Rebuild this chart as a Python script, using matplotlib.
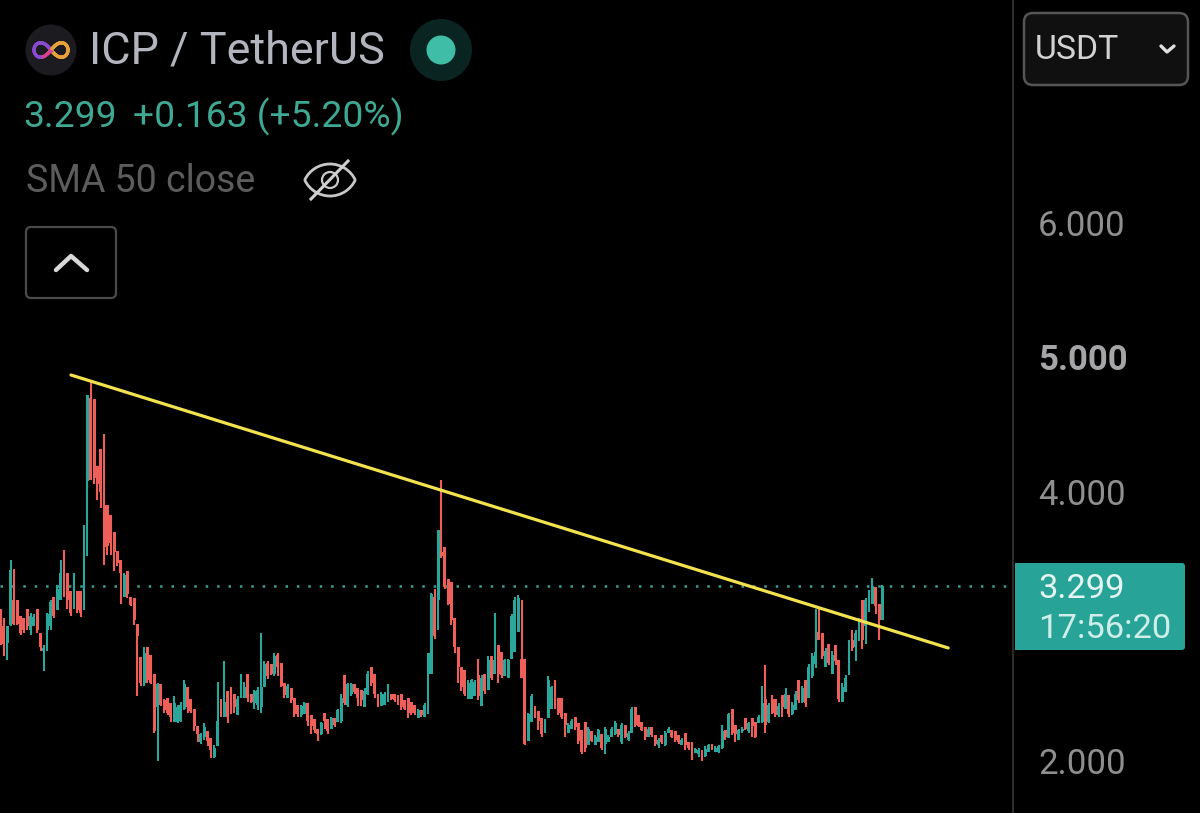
import numpy as np
import matplotlib
matplotlib.use("Agg")
import matplotlib.pyplot as plt
from matplotlib.patches import FancyBboxPatch, Circle, Arc, Rectangle

plt.rcParams['font.family'] = ['Roboto', 'DejaVu Sans']

opens = [
 3.06,3.00,2.88,3.01,3.20,3.20,3.08,3.06,3.13,2.97, 3.00,3.13,2.95,2.82,2.97,3.00,3.22,3.12,3.20,3.45,
 3.40,3.26,3.13,3.26,3.26,3.12,4.08,4.70,4.69,4.19, 4.32,3.90,3.90,3.83,3.70,3.56,3.49,3.22,3.41,3.22,
 3.21,3.02,2.77,2.58,2.85,2.79,2.65,2.40,2.57,2.45,2.47,2.43, 2.29,2.29,2.30,2.39,2.55,2.46,2.39,2.26,2.14,2.18,2.22,
 2.17,2.03,2.11,2.46,2.33,2.52,2.55,2.50,2.34,2.47,2.47, 2.65,2.50,2.43,2.42,2.40,2.55,2.73,2.72,2.65,2.79,
 2.73,2.58,2.47,2.54,2.47,2.42,2.34,
 2.35,2.43,2.34,2.31,2.24,2.20,2.36,2.31,2.24, 2.32,2.29,2.30,2.64,2.42,2.50,2.57,2.54,2.53,
 2.40,2.50,2.70,2.65,2.50,2.41,2.42,2.45,2.50,2.50, 2.49,2.50,2.45,2.47,2.44,2.42,2.32,2.38,2.33,
 2.65,2.65,3.22,3.20,3.55,3.59,3.35,3.33,3.06, 2.85,2.70,2.68,2.46,2.46,2.48,2.64,2.41,2.65,
 2.53,2.78,2.65,2.86,2.81,2.63,2.62,2.76,2.81,2.96, 2.76,2.76,2.15,2.29,2.41,2.37,2.32,2.21,2.32,
 2.39,2.60,2.47,2.47,2.36,2.21,2.24,2.33,2.28, 2.23,2.29,2.12,2.22,2.12,2.14,
 2.20,2.13,2.14,2.18,2.20,2.24,2.14,2.27,2.16,2.21, 2.40,2.34,2.29,2.25,2.18,2.25,2.19,2.12,2.19,2.12,
 2.21,2.23,2.22,2.19,2.12,2.21,2.14,2.14,2.06,2.05, 2.08,2.04,2.07,2.13,2.07,2.07,2.10,2.23,2.17,2.39,
 2.27,2.16,2.22,2.32,2.22,2.32,2.29,2.28,2.29,2.46, 2.29,2.46,2.46,2.34,2.49,2.39,2.49,2.35,2.38,2.60,
 2.44,2.60,2.47,2.63,2.72,2.96,2.95,2.70,2.87,2.65, 2.86,2.75,2.44,2.51,2.64,2.90,2.85,2.89,3.20,3.00,
 3.12,3.17,3.29,3.17,3.05]
highs = [
 3.13,3.06,3.00,3.49,3.43,3.20,3.08,3.06,3.13,3.10, 3.09,3.13,2.95,2.86,3.10,3.20,3.22,3.31,3.49,3.57,
 3.40,3.26,3.40,3.26,3.26,3.75,4.72,4.82,4.69,4.19, 4.32,4.43,3.90,3.83,3.70,3.56,3.49,3.40,3.41,3.22,
 3.21,3.02,2.77,2.85,2.85,2.79,2.65,2.58,2.57,2.46,2.47,2.43, 2.48,2.42,2.44,2.60,2.55,2.46,2.39,2.26,2.21,2.28,2.22,
 2.17,2.12,2.59,2.46,2.74,2.52,2.55,2.50,2.48,2.65,2.59, 2.65,2.50,2.53,2.55,2.95,2.74,2.74,2.72,2.80,2.80,
 2.73,2.58,2.57,2.54,2.47,2.42,2.42,
 2.44,2.43,2.34,2.31,2.24,2.29,2.36,2.31,2.33, 2.32,2.39,2.50,2.64,2.58,2.58,2.57,2.54,2.53,
 2.54,2.67,2.70,2.65,2.50,2.51,2.51,2.57,2.50,2.50, 2.49,2.50,2.45,2.47,2.44,2.42,2.39,2.38,2.43,
 2.80,3.25,3.28,3.72,4.09,3.59,3.35,3.33,3.06, 2.85,2.70,2.68,2.60,2.61,2.60,2.76,2.64,2.65,
 2.78,2.78,3.10,2.86,2.81,2.76,2.76,3.09,3.22,3.23, 3.20,2.76,2.36,2.50,2.41,2.37,2.32,2.31,2.63,
 2.56,2.60,2.47,2.47,2.36,2.28,2.31,2.33,2.28, 2.23,2.29,2.25,2.22,2.19,2.24,
 2.20,2.25,2.19,2.25,2.30,2.24,2.28,2.27,2.22,2.40, 2.40,2.34,2.29,2.25,2.25,2.25,2.19,2.17,2.19,2.22,
 2.25,2.23,2.22,2.19,2.17,2.21,2.14,2.14,2.10,2.10, 2.08,2.11,2.13,2.13,2.11,2.12,2.27,2.23,2.36,2.39,
 2.27,2.24,2.25,2.32,2.29,2.32,2.29,2.34,2.56,2.71, 2.43,2.49,2.46,2.43,2.49,2.54,2.49,2.44,2.52,2.60,
 2.56,2.60,2.72,2.80,3.13,3.13,2.95,2.84,2.87,2.82, 2.86,2.75,2.58,2.64,2.90,2.97,2.97,3.06,3.20,3.21,
 3.27,3.36,3.29,3.17,3.31]
lows = [
 2.86,2.78,2.75,3.00,3.01,3.01,2.94,2.95,2.97,2.94, 3.00,2.95,2.82,2.67,2.82,2.97,3.06,3.12,3.20,3.22,
 3.13,3.08,3.13,3.10,3.07,3.12,3.52,4.09,4.06,3.94, 3.88,3.46,3.53,3.53,3.41,3.45,3.17,3.22,3.21,3.15,
 3.01,2.48,2.56,2.56,2.58,2.57,2.21,2.00,2.41,2.36,2.34,2.29, 2.29,2.28,2.29,2.38,2.36,2.36,2.22,2.14,2.13,2.16,2.11,
 2.02,2.02,2.11,2.33,2.33,2.28,2.35,2.36,2.34,2.47,2.47, 2.44,2.43,2.39,2.38,2.36,2.55,2.61,2.64,2.63,2.63,
 2.55,2.47,2.47,2.43,2.33,2.33,2.33,
 2.35,2.26,2.20,2.21,2.15,2.19,2.24,2.20,2.24, 2.25,2.29,2.28,2.42,2.40,2.48,2.50,2.41,2.41,
 2.40,2.49,2.56,2.47,2.40,2.41,2.42,2.44,2.45,2.44, 2.42,2.38,2.38,2.32,2.34,2.34,2.32,2.33,2.33,
 2.35,2.65,2.91,2.97,3.51,3.28,3.16,3.01,2.80, 2.58,2.52,2.48,2.46,2.46,2.48,2.45,2.41,2.50,
 2.53,2.60,2.65,2.58,2.62,2.63,2.62,2.76,2.81,2.96, 2.62,2.12,2.15,2.29,2.32,2.23,2.18,2.21,2.32,
 2.39,2.39,2.34,2.31,2.18,2.21,2.24,2.23,2.13, 2.05,2.07,2.12,2.14,2.12,2.14,
 2.08,2.05,2.14,2.18,2.19,2.18,2.13,2.17,2.15,2.21, 2.25,2.25,2.22,2.16,2.18,2.18,2.11,2.10,2.13,2.11,
 2.21,2.17,2.14,2.13,2.12,2.08,2.08,2.01,2.06,2.03, 2.00,2.03,2.07,2.08,2.07,2.06,2.09,2.16,2.17,2.19,
 2.14,2.16,2.21,2.23,2.21,2.18,2.17,2.28,2.28,2.21, 2.28,2.35,2.33,2.33,2.33,2.39,2.33,2.34,2.38,2.43,
 2.43,2.40,2.47,2.62,2.69,2.90,2.76,2.70,2.71,2.65, 2.71,2.44,2.44,2.51,2.64,2.82,2.74,2.89,2.83,2.87,
 3.11,3.17,3.09,2.90,3.05]
closes = [
 2.87,2.87,3.00,3.42,3.02,3.02,2.95,2.97,3.00,3.08, 3.07,2.97,2.85,2.84,3.09,3.18,3.08,3.28,3.40,3.24,
 3.20,3.10,3.30,3.12,3.10,3.30,4.72,4.09,4.10,4.06, 4.00,3.59,3.60,3.62,3.55,3.47,3.40,3.38,3.24,3.16,
 3.05,2.93,2.58,2.80,2.60,2.58,2.22,2.57,2.42,2.38,2.36,2.33, 2.43,2.40,2.42,2.57,2.40,2.37,2.26,2.20,2.20,2.25,2.15,
 2.08,2.10,2.30,2.34,2.44,2.33,2.38,2.40,2.46,2.58,2.55, 2.47,2.44,2.52,2.53,2.55,2.72,2.63,2.65,2.78,2.70,
 2.56,2.49,2.56,2.45,2.35,2.35,2.41,
 2.43,2.30,2.26,2.23,2.20,2.28,2.30,2.22,2.32, 2.27,2.38,2.47,2.43,2.57,2.57,2.51,2.47,2.45,
 2.52,2.65,2.58,2.50,2.45,2.50,2.50,2.51,2.46,2.45, 2.44,2.40,2.39,2.36,2.36,2.36,2.38,2.34,2.42,
 2.80,3.24,2.93,3.72,3.52,3.29,3.17,3.05,2.85, 2.70,2.55,2.50,2.58,2.60,2.59,2.48,2.62,2.52,
 2.75,2.62,2.75,2.65,2.64,2.75,2.75,3.08,3.20,3.21, 2.62,2.13,2.35,2.48,2.33,2.30,2.20,2.30,2.60,
 2.55,2.42,2.36,2.33,2.27,2.27,2.30,2.25,2.15, 2.07,2.10,2.24,2.15,2.18,2.23,
 2.10,2.24,2.18,2.24,2.28,2.19,2.27,2.18,2.21,2.39, 2.27,2.26,2.23,2.18,2.24,2.19,2.13,2.16,2.14,2.21,
 2.24,2.18,2.16,2.14,2.16,2.12,2.10,2.04,2.09,2.08, 2.03,2.09,2.12,2.09,2.10,2.11,2.22,2.18,2.35,2.21,
 2.20,2.23,2.24,2.24,2.28,2.26,2.18,2.33,2.43,2.27, 2.42,2.36,2.34,2.41,2.40,2.50,2.35,2.42,2.50,2.45,
 2.54,2.43,2.70,2.78,2.81,2.90,2.78,2.82,2.73,2.79, 2.74,2.46,2.55,2.62,2.88,2.84,2.95,3.05,2.90,3.20,
 3.25,3.30,3.15,3.05,3.30]

price_ticks = [2, 4, 5, 6]
price_labels = ['2.000', '4.000', '5.000', '6.000']
last_price = 3.299
trend_bars = [21.1, 283.7]
trend_prices = [4.868, 2.84]

UP, DOWN = '#2ba69a', '#ee5f5a'
W, H = 1200, 813
fig = plt.figure(figsize=(W/100, H/100), dpi=100, facecolor='black')

ax = fig.add_axes([0, 0, 1013/W, 1], facecolor='black')
ax.set_xlim(-0.15, 303.1)
ax.set_ylim(1.614, 7.654)
idx = np.arange(len(opens))
o, h, l, c = map(np.array, (opens, highs, lows, closes))
cols = [UP if a >= b else DOWN for a, b in zip(c, o)]
ax.vlines(idx, l, h, colors=cols, linewidth=1.5, zorder=2)
ax.bar(idx, np.abs(c - o), bottom=np.minimum(c, o), width=0.88, color=cols, linewidth=0, zorder=3)
ax.axhline(last_price, color='#3f9f93', linewidth=1.8, linestyle=(0, (1, 3.56)), zorder=1)
ax.plot(trend_bars, trend_prices, color='#f2e34e', linewidth=2.3, zorder=4, solid_capstyle='round')

ax.set_xticks([])
ax.yaxis.tick_right()
ax.set_yticks(price_ticks)
ax.set_yticklabels(price_labels, fontsize=25, color='#8f8f8f')
ax.tick_params(axis='y', length=0, pad=18)
for t in ax.get_yticklabels():
    if t.get_text() == '5.000':
        t.set_fontweight('bold')
        t.set_color('#a5a5a8')
for s in ('top', 'left', 'bottom'):
    ax.spines[s].set_visible(False)
ax.spines['right'].set_color('#2c2c2c')
ax.spines['right'].set_linewidth(1.5)

ov = fig.add_axes([0, 0, 1, 1], facecolor='none')
ov.set_xlim(0, W); ov.set_ylim(H, 0); ov.axis('off')

# logo
ov.add_patch(Circle((51, 50), 25.5, color='#1b1b20', lw=0))
tt = np.linspace(0, 2*np.pi, 200)
lx = 51 + 17*np.cos(tt)/(1+np.sin(tt)**2)
ly = 50 + 17*np.sin(tt)*np.cos(tt)/(1+np.sin(tt)**2)*1.2
for i in range(len(tt)-1):
    col = '#e9a23b' if lx[i] > 52 else ('#8a4bd0' if i % 200 < 125 else '#d9408f')
    ov.plot(lx[i:i+2], ly[i:i+2], color=col, lw=2.4, solid_capstyle='round')

ov.text(89, 51, 'ICP / TetherUS', color='#b2b5bd', fontsize=32.4, va='center', ha='left')
ov.add_patch(Circle((441, 50), 31, color='#0a2521', lw=0))
ov.add_patch(Circle((441, 50), 14.5, color='#3fbda6', lw=0))

ov.text(23, 117, '3.299', color='#3fa893', fontsize=26.8, va='center', ha='left')
ov.text(133, 117, '+0.163 (+5.20%)', color='#3fa893', fontsize=26.8, va='center', ha='left')
ov.text(26, 182, 'SMA 50 close', color='#5c5c5c', fontsize=27, va='center', ha='left')

# eye icon
ex, ey = 330, 180
ov.add_patch(Arc((ex, ey+12), 56, 56, theta1=205, theta2=335, color='#c8c8c8', lw=2.0))
ov.add_patch(Arc((ex, ey-12), 56, 56, theta1=25, theta2=155, color='#c8c8c8', lw=2.0))
ov.add_patch(Circle((ex, ey), 8, fill=False, ec='#c8c8c8', lw=1.6))
ov.plot([311, 348], [199, 161], color='#d0d0d0', lw=2.2)

# collapse button
ov.add_patch(FancyBboxPatch((26+5, 227+5), 90-10, 71-10, boxstyle='round,pad=5',
                            fc='black', ec='#4a4a4a', lw=1.6))
ov.plot([56, 71, 87], [270, 256, 270], color='#d8d8d8', lw=3.2, solid_capstyle='round', solid_joinstyle='round')

# currency button
ov.add_patch(FancyBboxPatch((1024+9, 13+9), 164-18, 72-18, boxstyle='round,pad=9',
                            fc='#101010', ec='#555555', lw=1.8))
ov.text(1035, 50, 'USDT', color='#d2d2d2', fontsize=24.3, va='center', ha='left')
ov.plot([1161, 1167, 1174], [46, 52, 46], color='#e0e0e0', lw=2.4, solid_capstyle='round', solid_joinstyle='round')

# last price tag
ov.add_patch(FancyBboxPatch((1015+3, 563+3), 170-6, 87-6, boxstyle='round,pad=3',
                            fc='#27a497', ec='none'))
ov.add_patch(Rectangle((1015, 563), 8, 87, fc='#27a497', ec='none'))
ov.text(1038, 589, '3.299', color='#e6f5f2', fontsize=24.8, va='center', ha='left')
ov.text(1038, 629, '17:56:20', color='#cfeee9', fontsize=24.8, va='center', ha='left')

fig.savefig('out.png', dpi=100, facecolor='black')
